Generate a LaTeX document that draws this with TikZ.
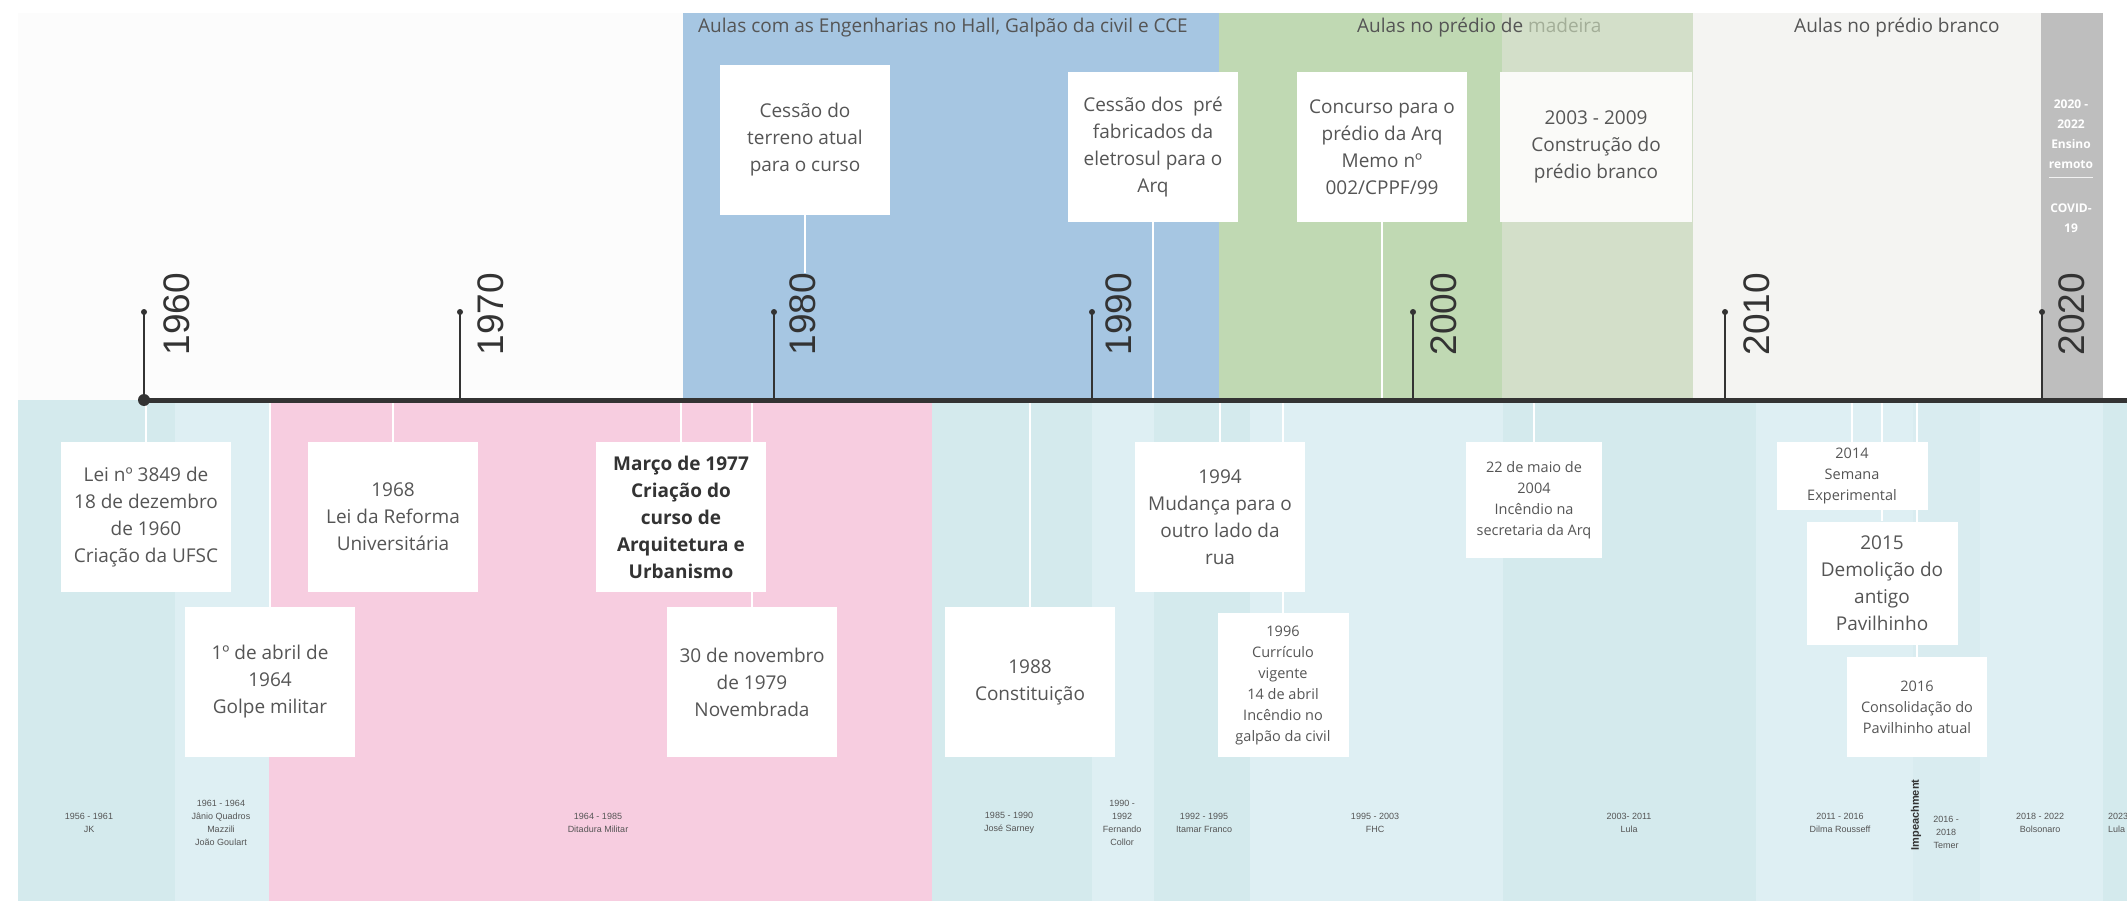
\documentclass[tikz,border=0pt]{standalone}
\usepackage{fontspec}
\setmainfont{Open Sans}
\newfontfamily\tlarial{Liberation Sans}
\usepackage{xcolor}
\definecolor{tlpaper}{HTML}{FCFCFC}
\definecolor{tlblue}{HTML}{A6C6E2}
\definecolor{tlgreen}{HTML}{C0D9B3}
\definecolor{tlsage}{HTML}{D3DFC9}
\definecolor{tlwhite}{HTML}{F4F4F2}
\definecolor{tlgray}{HTML}{BEBEBE}
\definecolor{tlpink}{HTML}{F7CDE0}
\definecolor{tlteal}{HTML}{D4EAED}
\definecolor{tlaqua}{HTML}{DEEFF3}
\definecolor{tltext}{HTML}{555555}
\definecolor{tlfade}{HTML}{A3AE98}
\definecolor{tlaxis}{HTML}{333333}
\usepackage{tikz}
\usetikzlibrary{positioning,backgrounds,calc}
\newcommand\tlmid{\fontsize{19}{27}\selectfont}
\newcommand\tlsml{\fontsize{14.5}{21}\selectfont}
\newcommand\tlterms{\tlarial\fontsize{9}{13}\selectfont}
\newcommand\tlyr{\tlarial\fontsize{37}{37}\selectfont}
\tikzset{
  tlbox/.style={fill=white,align=center,inner sep=0pt,minimum width=170pt,minimum height=150pt,font=\tlmid,text=tltext},
  tlsmall/.style={fill=white,align=center,inner sep=0pt,font=\tlsml,text=tltext},
  tlhead/.style={anchor=west,inner sep=0pt,font=\tlmid,text=tltext},
  tlterm/.style={align=center,inner sep=0pt,font=\tlterms,text=tltext},
  tlyear/.style={rotate=90,inner sep=0pt,font=\tlyr,text=tlaxis},
  tlcovid/.style={align=center,inner sep=0pt,font=\fontsize{12}{20}\selectfont\bfseries,text=white},
  tllink/.style={draw=white,line width=1.2pt},
  tltick/.style={draw=tlaxis,line width=2.6pt},
}

\begin{document}
\begin{tikzpicture}[x=1pt,y=-1pt]
\path[use as bounding box] (0,0) rectangle (2127,901);
\clip (0,0) rectangle (2127,901);
 % headers of the building periods
\node[tlhead] (hdeng) at (698,28) {Aulas com as Engenharias no Hall, Galpão da civil e CCE};
\node[tlhead] (hmad) at (1357,28) {Aulas no prédio de \textcolor{tlfade}{madeira}};
\node[tlhead] (hbra) at (1794,28) {Aulas no prédio branco};
\node[tlcovid] (remoto) at (2071,134) {2020 -\\2022\\Ensino\\remoto};
\node[tlcovid] (covid) at (2071,218) {COVID-\\19};
 % events above the axis
\node[tlbox] (terreno) at (805,140) {Cessão do\\terreno atual\\para o curso};
\node[tlbox] (eletrosul) at (1153,147) {Cessão dos~ pré\\fabricados da\\eletrosul para o\\Arq};
\node[tlbox] (concurso) at (1382,147) {Concurso para o\\prédio da Arq\\Memo nº\\002/CPPF/99};
\node[tlbox,fill=tlwhite!50!white,minimum width=192pt] (branco) at (1596,147) {2003 - 2009\\Construção do\\prédio branco};
 % decades
\node[tlyear] (y1960) at (177,314) {1960};
\node[tlyear] (y1970) at (491,314) {1970};
\node[tlyear] (y1980) at (803,314) {1980};
\node[tlyear] (y1990) at (1119,314) {1990};
\node[tlyear] (y2000) at (1444,314) {2000};
\node[tlyear] (y2010) at (1757,314) {2010};
\node[tlyear] (y2020) at (2072,314) {2020};
 % events below the axis
\node[tlbox] (lei) at (146,517) {Lei nº 3849 de\\18 de dezembro\\de 1960\\Criação da UFSC};
\node[tlbox] (reforma) at (393,517) {1968\\Lei da Reforma\\Universitária};
\node[tlbox,font=\tlmid\bfseries,text=tlaxis] (curso) at (681,517) {Março de 1977\\Criação do\\curso de\\Arquitetura e\\Urbanismo};
\node[tlbox] (mudanca) at (1220,517) {1994\\Mudança para o\\outro lado da\\rua};
\node[tlbox] (golpe) at (270,682) {1º de abril de\\1964\\Golpe militar};
\node[tlbox] (novembrada) at (752,682) {30 de novembro\\de 1979\\Novembrada};
\node[tlbox] (constituicao) at (1030,682) {1988\\Constituição};
\node[tlsmall,minimum width=131pt,minimum height=144pt] (curriculo) at (1283,685) {1996\\Currículo\\vigente\\14 de abril\\Incêndio no\\galpão da civil};
\node[tlsmall,minimum width=136pt,minimum height=116pt] (incendio) at (1534,500) {22 de maio de\\2004\\Incêndio na\\secretaria da Arq};
\node[tlsmall,minimum width=151pt,minimum height=68pt] (semana) at (1852,476) {2014\\Semana\\Experimental};
\node[tlbox,minimum width=151pt,minimum height=123pt] (demolicao) at (1882,583) {2015\\Demolição do\\antigo\\Pavilhinho};
\node[tlsmall,minimum width=140pt,minimum height=100pt] (consolidacao) at (1917,707) {2016\\Consolidação do\\Pavilhinho atual};
 % presidential terms
\node[tlterm] (jk) at (89,823) {1956 - 1961\\JK};
\node[tlterm] (janio) at (221,823) {1961 - 1964\\Jânio Quadros\\Mazzili\\João Goulart};
\node[tlterm] (ditadura) at (598,823) {1964 - 1985\\Ditadura Militar};
\node[tlterm] (sarney) at (1009,823) {1985 - 1990\\José Sarney};
\node[tlterm] (collor) at (1122,823) {1990 -\\1992\\Fernando\\Collor};
\node[tlterm] (itamar) at (1204,823) {1992 - 1995\\Itamar Franco};
\node[tlterm] (fhc) at (1375,823) {1995 - 2003\\FHC};
\node[tlterm] (lula) at (1629,823) {2003- 2011\\Lula};
\node[tlterm] (dilma) at (1840,823) {2011 - 2016\\Dilma Rousseff};
\node[tlterm,rotate=90,font=\tlarial\fontsize{11}{13}\selectfont\bfseries,text=tlaxis] (impeach) at (1916,815) {Impeachment};
\node[tlterm] (temer) at (1946,832) {2016 -\\2018\\Temer};
\node[tlterm] (bolsonaro) at (2040,823) {2018 - 2022\\Bolsonaro};
\node[tlterm,anchor=west,align=left] (lula3) at (2108,823) {2023 -\\Lula};
 % axis
\coordinate (axisL) at (144,400);
\coordinate (axisR) at (2127,400);
\begin{scope}[on background layer]
\fill[white] (0,0) rectangle (2127,901);
\fill[tlpaper] (18,13) rectangle (683,400);
\fill[tlblue] (683,13) rectangle (1219,400);
\fill[tlgreen] (1219,13) rectangle (1502,400);
\fill[tlsage] (1502,13) rectangle (1693,400);
\fill[tlwhite] (1693,13) rectangle (2041,400);
\fill[tlgray] (2041,13) rectangle (2103,400);
\fill[tlteal] (18,400) rectangle (175,901);
\fill[tlaqua] (175,400) rectangle (269,901);
\fill[tlpink] (269,400) rectangle (932,901);
\fill[tlteal] (932,400) rectangle (1092,901);
\fill[tlaqua] (1092,400) rectangle (1154,901);
\fill[tlteal] (1154,400) rectangle (1250,901);
\fill[tlaqua] (1250,400) rectangle (1503,901);
\fill[tlteal] (1503,400) rectangle (1756,901);
\fill[tlaqua] (1756,400) rectangle (1913,901);
\fill[tlteal!50!tlaqua] (1913,400) rectangle (1980,901);
\fill[tlaqua] (1980,400) rectangle (2103,901);
\fill[tlteal] (2103,400) rectangle (2127,901);
\draw[white!80!tlgray,line width=1pt] ($(remoto.south)+(-22,9)$) -- ($(remoto.south)+(22,9)$);
\draw[tllink] (terreno.south) -- (terreno.south |- y1980.east);
\draw[tllink] (eletrosul.south) -- (eletrosul.south |- axisL);
\draw[tllink] (concurso.south) -- (concurso.south |- axisL);
\draw[tllink] (lei.north) -- (lei.north |- axisL);
\draw[tllink] (reforma.north) -- (reforma.north |- axisL);
\draw[tllink] (curso.north) -- (curso.north |- axisL);
\draw[tllink] (mudanca.north) -- (mudanca.north |- axisL);
\draw[tllink] (golpe.north) -- (golpe.north |- axisL);
\draw[tllink] (novembrada.north) -- (novembrada.north |- axisL);
\draw[tllink] (constituicao.north) -- (constituicao.north |- axisL);
\draw[tllink] (curriculo.north) -- (curriculo.north |- axisL);
\draw[tllink] (incendio.north) -- (incendio.north |- axisL);
\draw[tllink] (semana.north) -- (semana.north |- axisL);
\draw[tllink] (demolicao.north) -- (demolicao.north |- axisL);
\draw[tllink] (consolidacao.north) -- (consolidacao.north |- axisL);
\end{scope}
\draw[tlaxis,line width=5pt] (axisL) -- (axisR);
\fill[tlaxis] (axisL) circle (6pt);
\coordinate (t1960) at (144,312);
\coordinate (t1970) at (460,312);
\coordinate (t1980) at (774,312);
\coordinate (t1990) at (1092,312);
\coordinate (t2000) at (1413,312);
\coordinate (t2010) at (1725,312);
\coordinate (t2020) at (2042,312);
\draw[tltick] (t1960) -- (t1960 |- axisL); \fill[tlaxis] (t1960) circle (3pt);
\draw[tltick] (t1970) -- (t1970 |- axisL); \fill[tlaxis] (t1970) circle (3pt);
\draw[tltick] (t1980) -- (t1980 |- axisL); \fill[tlaxis] (t1980) circle (3pt);
\draw[tltick] (t1990) -- (t1990 |- axisL); \fill[tlaxis] (t1990) circle (3pt);
\draw[tltick] (t2000) -- (t2000 |- axisL); \fill[tlaxis] (t2000) circle (3pt);
\draw[tltick] (t2010) -- (t2010 |- axisL); \fill[tlaxis] (t2010) circle (3pt);
\draw[tltick] (t2020) -- (t2020 |- axisL); \fill[tlaxis] (t2020) circle (3pt);
\end{tikzpicture}
\end{document}
